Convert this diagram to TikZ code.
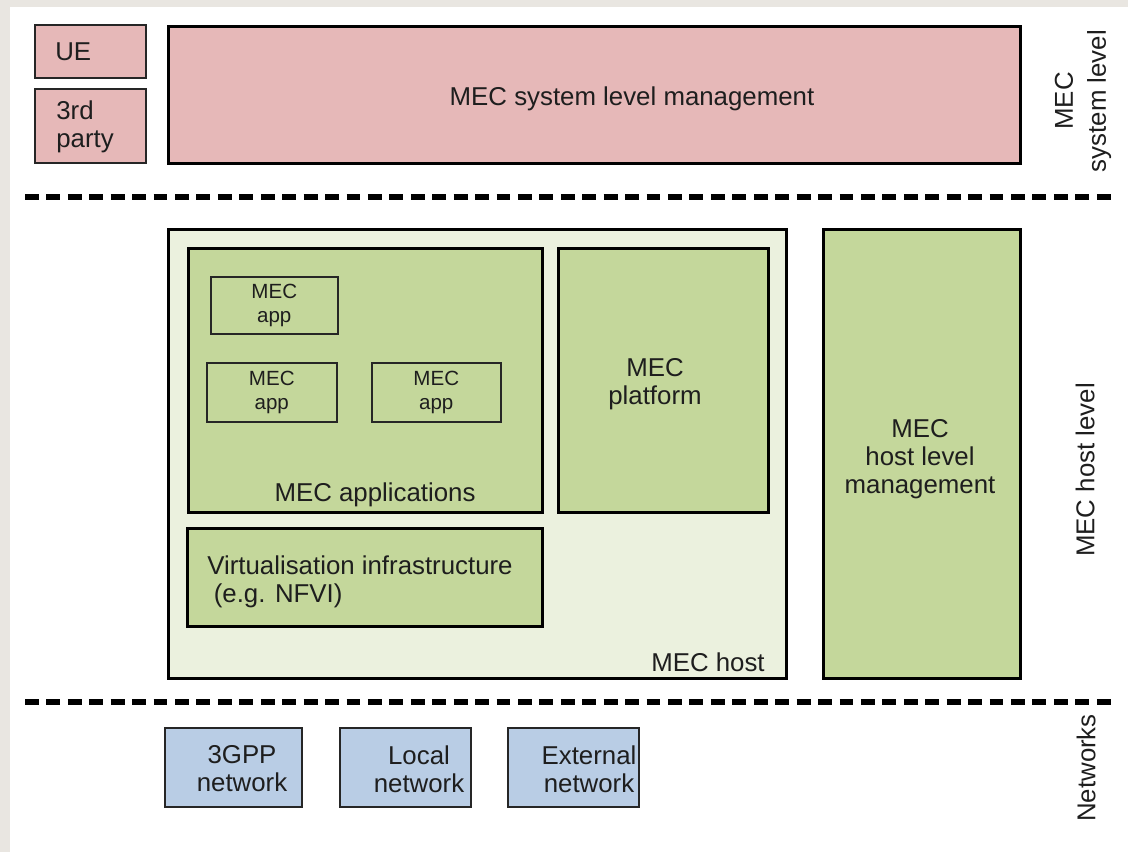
\documentclass[tikz,border=0pt]{standalone}
\usepackage{fontspec}
\setmainfont{Liberation Sans}
\definecolor{bggray}{HTML}{E9E6E1}
\definecolor{pinkf}{HTML}{E6B8B8}
\definecolor{greenf}{HTML}{C4D79B}
\definecolor{lightg}{HTML}{EBF1DE}
\definecolor{bluef}{HTML}{B9CDE5}
\definecolor{edge}{HTML}{262626}
\definecolor{txtc}{HTML}{1E1E1E}
\begin{document}
\begin{tikzpicture}[x=0.02cm,y=-0.02cm,
  big/.style={font=\fontsize{14.7}{15.9}\selectfont, text=txtc, inner sep=0pt},
  small/.style={font=\fontsize{11.7}{13.4}\selectfont, text=txtc, inner sep=0pt},
  thickbox/.style={draw=black, line width=1.7pt, anchor=north west, inner sep=0pt},
  thinbox/.style={draw=edge, line width=0.9pt, anchor=north west, inner sep=0pt},
  sepline/.style={line width=3.2pt, dash pattern=on 7.9pt off 4.3pt}
]
\useasboundingbox (0,0) rectangle (1128,852);
\fill[bggray] (0,0) rectangle (1128,852);
\fill[white] (10,7) rectangle (1128,852);

% system level
\node[thinbox, fill=pinkf, minimum width=2.22cm, minimum height=1.06cm] (ue) at (34,24) {};
\node[big, anchor=west] (uet) at (55,51.5) {UE};
\node[thinbox, fill=pinkf, minimum width=2.22cm, minimum height=1.48cm] (third) at (34,88) {};
\node[big, anchor=west, align=left] (thirdt) at (56,127) {3rd\\party};
\node[thickbox, fill=pinkf, minimum width=17.04cm, minimum height=2.74cm] (sysm) at (167,25) {};
\node[big] (sysmt) at (632,99) {MEC system level management};

% separators
\coordinate (d1a) at (25,197);
\coordinate (d1b) at (1116,197);
\coordinate (d2a) at (25,702);
\coordinate (d2b) at (1116,702);
\draw[sepline] (d1a) -- (d1b);
\draw[sepline] (d2a) -- (d2b);

% host level
\node[thickbox, fill=lightg, minimum width=12.36cm, minimum height=8.98cm] (host) at (167,228) {};
\node[thickbox, fill=greenf, minimum width=7.08cm, minimum height=5.28cm] (apps) at (187,247) {};
\node[thinbox, fill=greenf, minimum width=2.54cm, minimum height=1.14cm, small, align=center] (app1) at (210,276) {MEC\\app};
\node[thinbox, fill=greenf, minimum width=2.6cm, minimum height=1.18cm, small, align=center] (app2) at (206,362) {MEC\\app};
\node[thinbox, fill=greenf, minimum width=2.58cm, minimum height=1.18cm, small, align=center] (app3) at (371,362) {MEC\\app};
\node[big] (appst) at (375,495) {MEC applications};
\node[thickbox, fill=greenf, minimum width=4.2cm, minimum height=5.28cm] (plat) at (557,247) {};
\node[big, align=center] (platt) at (655,384) {MEC\\platform};
\node[thickbox, fill=greenf, minimum width=7.1cm, minimum height=1.96cm] (virt) at (186,527) {};
\node[big, anchor=west, align=left] (virtt) at (207,582) {Virtualisation infrastructure\\\hspace{0.25em}(e.g. NFVI)};
\node[big] (hostt) at (708,662) {MEC host};
\node[thickbox, fill=greenf, minimum width=3.94cm, minimum height=8.98cm] (hmgmt) at (822,228) {};
\node[big, align=center] (hmgmtt) at (920,459) {MEC\\host level\\management};

% networks
\node[thinbox, fill=bluef, minimum width=2.74cm, minimum height=1.58cm] (n3) at (164,727) {};
\node[big, align=center] (n3t) at (242,769) {3GPP\\network};
\node[thinbox, fill=bluef, minimum width=2.62cm, minimum height=1.58cm] (nl) at (339,727) {};
\node[big, align=center] (nlt) at (419,769) {Local\\network};
\node[thinbox, fill=bluef, minimum width=2.62cm, minimum height=1.58cm] (ne) at (507,727) {};
\node[big, align=center] (net) at (589,769) {External\\network};

% right labels
\node[font=\fontsize{14.7}{18.7}\selectfont, text=txtc, inner sep=0pt, rotate=90, align=center] (lsys) at (1083,101) {MEC\\system level};
\node[big, rotate=90] (lhost) at (1085,470) {MEC host level};
\node[big, rotate=90] (lnet) at (1086,768) {Networks};
\end{tikzpicture}
\end{document}
